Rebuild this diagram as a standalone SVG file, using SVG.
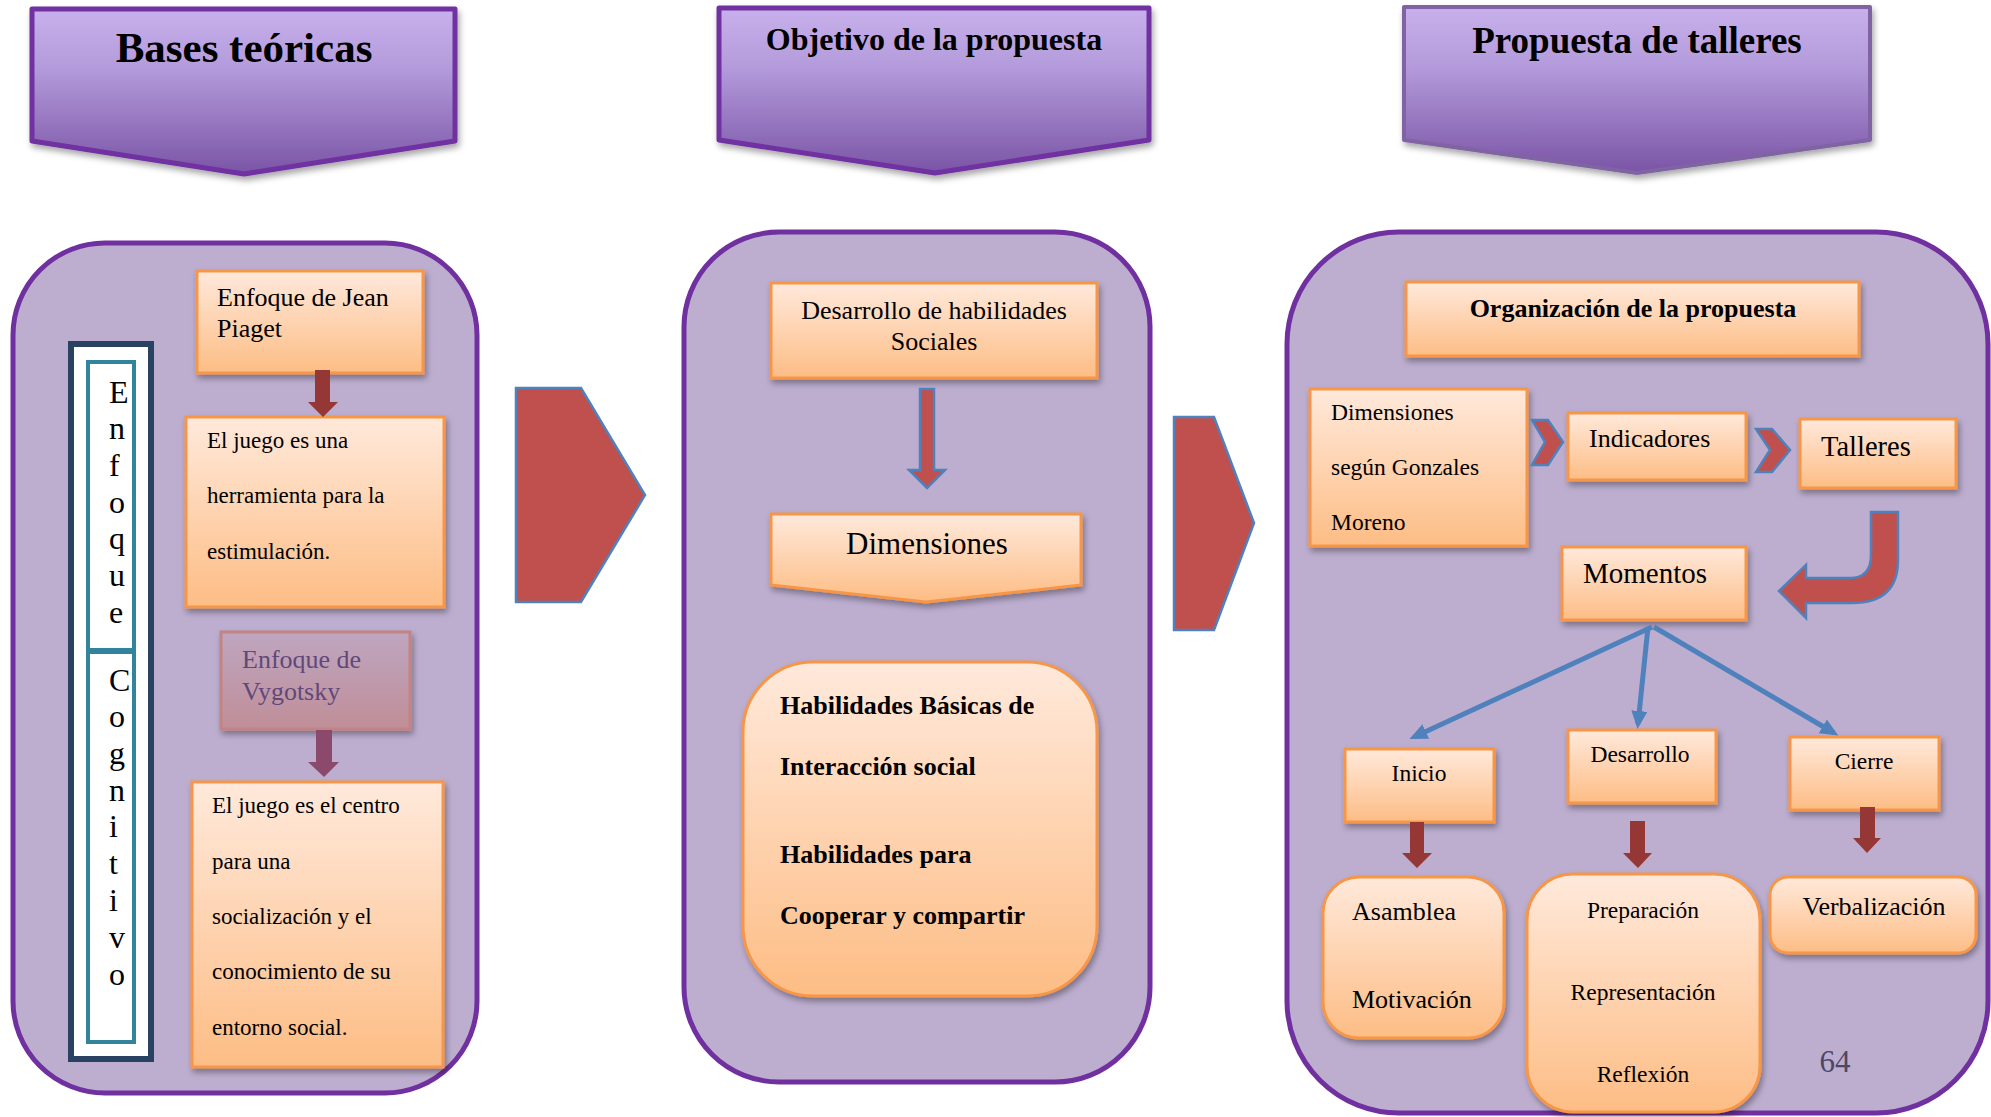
<svg xmlns="http://www.w3.org/2000/svg" width="1991" height="1117" viewBox="0 0 1991 1117">
<defs>
<linearGradient id="gPurple" x1="0" y1="0" x2="0" y2="1">
<stop offset="0" stop-color="#c8b0ec"/><stop offset="0.35" stop-color="#b49cdc"/><stop offset="1" stop-color="#7a54a6"/>
</linearGradient>
<linearGradient id="gOrange" x1="0" y1="0" x2="0" y2="1">
<stop offset="0" stop-color="#ffe9db"/><stop offset="1" stop-color="#fdbd85"/>
</linearGradient>
<linearGradient id="gMauve" x1="0" y1="0" x2="0" y2="1">
<stop offset="0" stop-color="#bea6c0"/><stop offset="1" stop-color="#c08e98"/>
</linearGradient>
<filter id="sh" x="-10%" y="-10%" width="130%" height="140%">
<feDropShadow dx="2" dy="4" stdDeviation="3" flood-color="#000" flood-opacity="0.35"/>
</filter>
<marker id="blueHead" viewBox="0 0 18 16" markerWidth="18" markerHeight="16" refX="13" refY="8" orient="auto" markerUnits="userSpaceOnUse">
<path d="M0,0 L18,8 L0,16 z" fill="#4f81bd"/>
</marker>
<style>
.banner{fill:url(#gPurple);stroke:#7030a0;stroke-width:5;stroke-linejoin:round;filter:url(#sh)}
.cont{fill:#bdaed0;stroke:#7030a0;stroke-width:5}
.box{fill:url(#gOrange);stroke:#f79646;stroke-width:3;filter:url(#sh)}
.t{font-family:"Liberation Serif","Times New Roman",serif;fill:#000}
.b{font-weight:bold}
.darr{fill:#953735}
.redarr{fill:#c0504d;stroke:#4f81bd;stroke-width:2.5;stroke-linejoin:miter}
.blue{stroke:#4f81bd;stroke-width:5;fill:none;marker-end:url(#blueHead)}
</style>
</defs>
<rect width="1991" height="1117" fill="#ffffff"/>

<!-- Banners -->
<g id="banner-bases">
<polygon class="banner" points="32,9 455,9 455,141 244,174 32,141"/>
<text class="t b" x="244" y="62" font-size="43" text-anchor="middle">Bases teóricas</text>
</g>
<g id="banner-objetivo">
<polygon class="banner" points="719,8 1149,8 1149,140 935,173 719,140"/>
<text class="t b" x="934" y="50" font-size="32" text-anchor="middle">Objetivo de la propuesta</text>
</g>
<g id="banner-propuesta">
<polygon class="banner" points="1404,7 1870,7 1870,140 1637,173 1404,140" style="stroke:#8064a2;stroke-width:4"/>
<text class="t b" x="1637" y="53" font-size="37" text-anchor="middle">Propuesta de talleres</text>
</g>

<!-- Containers -->
<g id="container-bases"><rect class="cont" x="13" y="243" width="464" height="850" rx="92"/></g>
<g id="container-objetivo"><rect class="cont" x="684" y="232" width="466" height="850" rx="95"/></g>
<g id="container-propuesta"><rect class="cont" x="1287" y="232" width="701" height="881" rx="112"/></g>

<!-- Left column -->
<g id="enfoque-cognitivo">
<rect x="71" y="344" width="80" height="715" fill="#ffffff" stroke="#2a4262" stroke-width="6"/>
<rect x="88" y="362" width="46" height="288" fill="#ffffff" stroke="#31849b" stroke-width="4"/>
<rect x="88" y="652" width="46" height="390" fill="#ffffff" stroke="#31849b" stroke-width="4"/>
<text class="t" font-size="32">
<tspan x="109" y="403">E</tspan><tspan x="109" y="439">n</tspan><tspan x="109" y="476">f</tspan><tspan x="109" y="513">o</tspan><tspan x="109" y="549">q</tspan><tspan x="109" y="586">u</tspan><tspan x="109" y="623">e</tspan>
</text>
<text class="t" font-size="32">
<tspan x="109" y="691">C</tspan><tspan x="109" y="727">o</tspan><tspan x="109" y="764">g</tspan><tspan x="109" y="801">n</tspan><tspan x="109" y="837">i</tspan><tspan x="109" y="874">t</tspan><tspan x="109" y="911">i</tspan><tspan x="109" y="948">v</tspan><tspan x="109" y="985">o</tspan>
</text>
</g>
<g id="piaget">
<rect class="box" x="197" y="271" width="226" height="102"/>
<text class="t" font-size="26"><tspan x="217" y="306">Enfoque de Jean</tspan><tspan x="217" y="337">Piaget</tspan></text>
</g>
<g id="juego-herramienta">
<rect class="box" x="186" y="417" width="258" height="190"/>
<text class="t" font-size="23"><tspan x="207" y="448">El juego es una</tspan><tspan x="207" y="503">herramienta para la</tspan><tspan x="207" y="559">estimulación.</tspan></text>
</g>
<g id="vygotsky">
<rect x="221" y="632" width="189" height="97" fill="url(#gMauve)" stroke="#c48383" stroke-width="3" filter="url(#sh)"/>
<text class="t" font-size="26" style="fill:#5f497a"><tspan x="242" y="668">Enfoque de</tspan><tspan x="242" y="700">Vygotsky</tspan></text>
</g>
<g id="juego-centro">
<rect class="box" x="192" y="782" width="251" height="285"/>
<text class="t" font-size="23"><tspan x="212" y="813">El juego es el centro</tspan><tspan x="212" y="869">para una</tspan><tspan x="212" y="924">socialización y el</tspan><tspan x="212" y="979">conocimiento de su</tspan><tspan x="212" y="1035">entorno social.</tspan></text>
</g>

<!-- Middle column -->
<g id="desarrollo-habilidades">
<rect class="box" x="771" y="283" width="326" height="95"/>
<text class="t" font-size="26" text-anchor="middle"><tspan x="934" y="319">Desarrollo de habilidades</tspan><tspan x="934" y="350">Sociales</tspan></text>
</g>
<g id="dimensiones">
<polygon class="box" points="771,514 1081,514 1081,585 926,602 771,585"/>
<text class="t" font-size="31" x="927" y="554" text-anchor="middle">Dimensiones</text>
</g>
<g id="habilidades">
<rect class="box" x="743" y="662" width="354" height="334" rx="70"/>
<text class="t b" font-size="26"><tspan x="780" y="714">Habilidades Básicas de</tspan><tspan x="780" y="775">Interacción social</tspan><tspan x="780" y="863">Habilidades para</tspan><tspan x="780" y="924">Cooperar y compartir</tspan></text>
</g>

<!-- Right column -->
<g id="organizacion">
<rect class="box" x="1406" y="282" width="453" height="74"/>
<text class="t b" font-size="26" x="1633" y="317" text-anchor="middle">Organización de la propuesta</text>
</g>
<g id="dimensiones-gonzales">
<rect class="box" x="1310" y="389" width="217" height="157"/>
<text class="t" font-size="23.5"><tspan x="1331" y="420">Dimensiones</tspan><tspan x="1331" y="475">según Gonzales</tspan><tspan x="1331" y="530">Moreno</tspan></text>
</g>
<g id="indicadores">
<rect class="box" x="1568" y="413" width="178" height="67"/>
<text class="t" font-size="26" x="1589" y="447">Indicadores</text>
</g>
<g id="talleres">
<rect class="box" x="1800" y="419" width="156" height="69"/>
<text class="t" font-size="28.5" x="1821" y="456">Talleres</text>
</g>
<g id="momentos">
<rect class="box" x="1562" y="547" width="184" height="73"/>
<text class="t" font-size="29" x="1583" y="583">Momentos</text>
</g>
<g id="inicio">
<rect class="box" x="1345" y="749" width="149" height="73"/>
<text class="t" font-size="23.5" x="1419" y="781" text-anchor="middle">Inicio</text>
</g>
<g id="desarrollo">
<rect class="box" x="1568" y="730" width="148" height="73"/>
<text class="t" font-size="23.5" x="1640" y="762" text-anchor="middle">Desarrollo</text>
</g>
<g id="cierre">
<rect class="box" x="1790" y="737" width="149" height="73"/>
<text class="t" font-size="23.5" x="1864" y="769" text-anchor="middle">Cierre</text>
</g>
<g id="asamblea">
<rect class="box" x="1323" y="877" width="181" height="161" rx="36"/>
<text class="t" font-size="26"><tspan x="1352" y="920">Asamblea</tspan><tspan x="1352" y="1008">Motivación</tspan></text>
</g>
<g id="preparacion">
<rect class="box" x="1527" y="874" width="233" height="238" rx="46"/>
<text class="t" font-size="23.5" text-anchor="middle"><tspan x="1643" y="918">Preparación</tspan><tspan x="1643" y="1000">Representación</tspan><tspan x="1643" y="1082">Reflexión</tspan></text>
</g>
<g id="verbalizacion">
<rect class="box" x="1770" y="877" width="206" height="76" rx="18"/>
<text class="t" font-size="26" x="1874" y="915" text-anchor="middle">Verbalización</text>
</g>
<text class="t" font-size="31" x="1835" y="1072" text-anchor="middle" style="fill:#4d4766">64</text>

<!-- Connectors -->
<g id="connectors">
<polygon class="redarr" points="516,388 581,388 645,495 581,602 516,602"/>
<polygon class="redarr" points="1174,417 1214,417 1254,523 1214,630 1174,630"/>
<polygon class="darr" points="315,370 330,370 330,402 338,402 323,417 308,402 315,402"/>
<polygon class="darr" points="316,730 332,730 332,762 339,762 324,777 308,762 316,762" style="fill:#8b4a6b"/>
<polygon class="redarr" points="920,389 934,389 934,470 945,470 927,488 909,470 920,470"/>
<polygon class="redarr" points="1532,420 1548,420 1563,442 1548,465 1532,465 1545,442"/>
<polygon class="redarr" points="1756,429 1772,429 1790,450 1772,472 1756,472 1770,450"/>
<path class="redarr" d="M1871,512 L1898,512 L1898,560 Q1898,603 1852,603 L1806,603 L1806,618 L1779,591 L1806,565 L1806,578 L1850,578 Q1871,578 1871,555 Z"/>
<line class="blue" x1="1652" y1="627" x2="1414" y2="737"/>
<line class="blue" x1="1648" y1="627" x2="1638" y2="724"/>
<line class="blue" x1="1654" y1="627" x2="1834" y2="733"/>
<polygon class="darr" points="1410,822 1424,822 1424,853 1432,853 1417,868 1402,853 1410,853"/>
<polygon class="darr" points="1630,821 1645,821 1645,853 1652,853 1638,868 1623,853 1630,853"/>
<polygon class="darr" points="1860,807 1875,807 1875,838 1881,838 1867,853 1853,838 1860,838"/>
</g>
</svg>
